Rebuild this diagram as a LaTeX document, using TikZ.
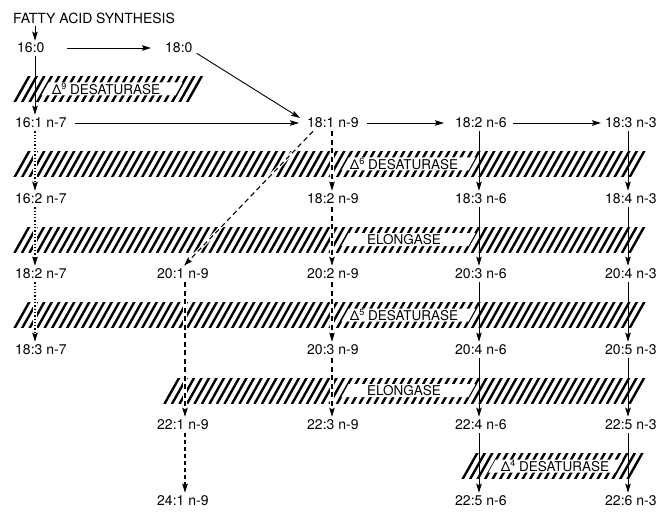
\documentclass[tikz,border=0pt]{standalone}
\usepackage{fontspec}
\setmainfont{TeX Gyre Heros}
\usetikzlibrary{arrows.meta,calc}
\tikzset{
  hatchline/.style={line width=2.4pt},
  lab/.style={anchor=west, inner sep=0pt, font=\fontsize{14}{16}\selectfont},
  barlab/.style={inner sep=0pt, font=\fontsize{13.5}{16}\selectfont},
  tipstyle/.style={-{Stealth[length=9pt,width=5.5pt,inset=1.5pt]}},
  solidarrow/.style={tipstyle, line width=0.9pt, shorten <=3pt, shorten >=3pt},
  dasharrow/.style={tipstyle, line width=1.1pt, dash pattern=on 5pt off 3.5pt, shorten <=3pt, shorten >=3pt},
  thickdash/.style={tipstyle, line width=1.6pt, dash pattern=on 4pt off 3pt, shorten <=3pt, shorten >=3pt},
  dotarrow/.style={tipstyle, line width=1.5pt, dash pattern=on 1.3pt off 2pt, shorten <=3pt, shorten >=3pt},
  under/.style={draw=white, line width=3.2pt, shorten <=3pt, shorten >=6pt},
}
\newcommand{\myhatch}[3]{%
  \begin{scope}
    \clip (#1-20,#3-12.5) rectangle (#2+20,#3+12.5);
    \pgfmathsetmacro{\hxe}{#2-14}
    \pgfmathsetmacro{\hxn}{#1+7.5}
    \foreach \hx in {#1,\hxn,...,\hxe} \draw[hatchline] (\hx-0.6,#3+13.5) -- (\hx+14.6,#3-13.5);
  \end{scope}}
\newcommand{\mywhite}[3]{%
  \fill[white] (#1+3.4,#3+6.5) -- (#2+3.4,#3+6.5) -- (#2+10.6,#3-6.5) -- (#1+10.6,#3-6.5) -- cycle;}
\newcommand{\mysup}[1]{\raisebox{5.5pt}{\fontsize{9}{10}\selectfont #1}}
\begin{document}
\begin{tikzpicture}[x=1pt,y=-1pt]
\fill[white] (0,0) rectangle (658,513);
\useasboundingbox (0,0) rectangle (658,513);

% columns
\coordinate (cA) at (35,0);
\coordinate (cB) at (185,0);
\coordinate (cC) at (332,0);
\coordinate (cD) at (479,0);
\coordinate (cE) at (628,0);

% hatched enzyme bars
\myhatch{15}{202}{89}
\mywhite{38}{172}{89}
\myhatch{15}{645}{164}
\mywhite{338}{465}{164}
\myhatch{15}{645}{239.5}
\mywhite{338}{465}{239.5}
\myhatch{15}{645}{315}
\mywhite{338}{465}{315}
\myhatch{165}{645}{390.5}
\mywhite{338}{465}{390.5}
\myhatch{463}{648}{466}
\mywhite{485}{612}{466}

\node[barlab] (d9) at (106,89) {Δ\mysup{9} DESATURASE};
\node[barlab] (d6) at (404,164) {Δ\mysup{6} DESATURASE};
\node[barlab] (el1) at (404,239.5) {ELONGASE};
\node[barlab] (d5) at (404,315) {Δ\mysup{5} DESATURASE};
\node[barlab] (el2) at (404,390.5) {ELONGASE};
\node[barlab] (d4) at (555,466) {Δ\mysup{4} DESATURASE};

% nodes
\node[lab] (title) at (13,18) {FATTY ACID SYNTHESIS};
\node[lab] (n160) at (17,48) {16:0};
\node[lab] (n180) at (165,48) {18:0};

\node[lab] (n161) at (15,123) {16:1 n-7};
\node[lab] (n181) at (307,123) {18:1 n-9};
\node[lab] (n182a) at (455,123) {18:2 n-6};
\node[lab] (n183a) at (605,123) {18:3 n-3};

\node[lab] (n162) at (15,199) {16:2 n-7};
\node[lab] (n182b) at (307,199) {18:2 n-9};
\node[lab] (n183b) at (455,199) {18:3 n-6};
\node[lab] (n184) at (605,199) {18:4 n-3};

\node[lab] (n182c) at (15,274) {18:2 n-7};
\node[lab] (n201) at (157,274) {20:1 n-9};
\node[lab] (n202) at (307,274) {20:2 n-9};
\node[lab] (n203a) at (455,274) {20:3 n-6};
\node[lab] (n204a) at (605,274) {20:4 n-3};

\node[lab] (n183c) at (15,350) {18:3 n-7};
\node[lab] (n203b) at (307,350) {20:3 n-9};
\node[lab] (n204b) at (455,350) {20:4 n-6};
\node[lab] (n205) at (605,350) {20:5 n-3};

\node[lab] (n221) at (157,425) {22:1 n-9};
\node[lab] (n223) at (307,425) {22:3 n-9};
\node[lab] (n224) at (455,425) {22:4 n-6};
\node[lab] (n225a) at (605,425) {22:5 n-3};

\node[lab] (n241) at (157,501) {24:1 n-9};
\node[lab] (n225b) at (455,501) {22:5 n-6};
\node[lab] (n226) at (605,501) {22:6 n-3};

% top arrows
\draw[solidarrow, shorten <=2pt, shorten >=2pt] (title.south -| cA) -- (n160.north -| cA);
\draw[solidarrow] (n160.south -| cA) -- (n161.north -| cA);
\draw[solidarrow, shorten <=22pt, shorten >=14pt] (n160.east) -- (n180.west);
\draw[solidarrow, shorten <=0pt, shorten >=0pt] ($(n180.south east)+(4,0)$) -- ($(n181.west)+(-7,-5)$);

% horizontal row 1
\draw[solidarrow, shorten <=8pt, shorten >=8pt] (n161.east) -- (n181.west);
\draw[solidarrow, shorten <=8pt, shorten >=11pt] (n181.east) -- (n182a.west);
\draw[solidarrow, shorten <=6pt, shorten >=4pt] (n182a.east) -- (n183a.west);

% column A (dotted)
\draw[under] (n161.south -| cA) -- (n162.north -| cA);
\draw[dotarrow] (n161.south -| cA) -- (n162.north -| cA);
\draw[under] (n162.south -| cA) -- (n182c.north -| cA);
\draw[dotarrow] (n162.south -| cA) -- (n182c.north -| cA);
\draw[under] (n182c.south -| cA) -- (n183c.north -| cA);
\draw[dotarrow] (n182c.south -| cA) -- (n183c.north -| cA);

% column B (dashed)
\draw[under, shorten <=0pt, shorten >=4pt] ($(n181.south west)+(6,3)$) -- ($(n201.north west)+(27,-3)$);
\draw[dasharrow, shorten <=0pt, shorten >=0pt] ($(n181.south west)+(6,3)$) -- ($(n201.north west)+(27,-3)$);
\draw[under] (n201.south -| cB) -- (n221.north -| cB);
\draw[dasharrow] (n201.south -| cB) -- (n221.north -| cB);
\draw[thickdash] (n221.south -| cB) -- (n241.north -| cB);

% column C (dashed)
\draw[under] (n181.south -| cC) -- (n182b.north -| cC);
\draw[dasharrow] (n181.south -| cC) -- (n182b.north -| cC);
\draw[under] (n182b.south -| cC) -- (n202.north -| cC);
\draw[dasharrow] (n182b.south -| cC) -- (n202.north -| cC);
\draw[under] (n202.south -| cC) -- (n203b.north -| cC);
\draw[dasharrow] (n202.south -| cC) -- (n203b.north -| cC);
\draw[under] (n203b.south -| cC) -- (n223.north -| cC);
\draw[dasharrow] (n203b.south -| cC) -- (n223.north -| cC);

% column D (solid)
\draw[solidarrow] (n182a.south -| cD) -- (n183b.north -| cD);
\draw[solidarrow] (n183b.south -| cD) -- (n203a.north -| cD);
\draw[solidarrow] (n203a.south -| cD) -- (n204b.north -| cD);
\draw[solidarrow] (n204b.south -| cD) -- (n224.north -| cD);
\draw[solidarrow] (n224.south -| cD) -- (n225b.north -| cD);

% column E (solid)
\draw[solidarrow] (n183a.south -| cE) -- (n184.north -| cE);
\draw[solidarrow] (n184.south -| cE) -- (n204a.north -| cE);
\draw[solidarrow] (n204a.south -| cE) -- (n205.north -| cE);
\draw[solidarrow] (n205.south -| cE) -- (n225a.north -| cE);
\draw[solidarrow] (n225a.south -| cE) -- (n226.north -| cE);
\end{tikzpicture}
\end{document}
